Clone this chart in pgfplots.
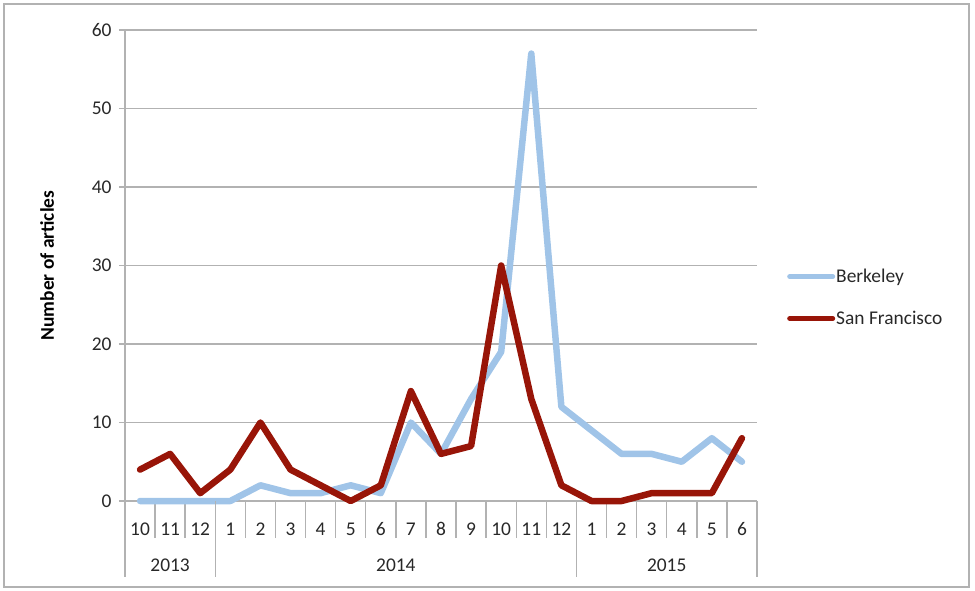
\documentclass[border=0pt]{standalone}
\usepackage{fontspec}
\setmainfont{Carlito}
\usepackage{pgfplots}
\pgfplotsset{compat=1.18}
\definecolor{berk}{RGB}{160,196,232}
\definecolor{sfc}{RGB}{152,21,8}
\definecolor{gridc}{RGB}{178,178,178}
\definecolor{txt}{RGB}{40,40,40}
\newcommand{\cf}{\fontsize{19.5}{23}\selectfont}
\begin{document}
\begin{tikzpicture}
\useasboundingbox (-125bp,-90bp) rectangle (850bp,501bp);
\draw[gridc, line width=1.6bp] (-121bp,-86bp) rectangle (844bp,497bp);
\begin{axis}[
  name=ax,
  at={(0bp,0bp)}, anchor=south west,
  scale only axis,
  width=632bp, height=471bp,
  xmin=-0.5, xmax=20.5,
  ymin=0, ymax=60,
  ytick={0,10,...,60},
  xtick={0,...,20},
  xticklabels={10,11,12,1,2,3,4,5,6,7,8,9,10,11,12,1,2,3,4,5,6},
  minor xtick={-0.5,0.5,...,20.5},
  axis lines*=left,
  axis line style={gridc, line width=1.4bp},
  ymajorgrids,
  major grid style={gridc, line width=1.6bp},
  tick style={gridc, line width=1.4bp},
  tick align=outside,
  major tick length=6bp,
  minor tick length=37bp,
  xtick style={/pgfplots/major tick length=0bp},
  /pgf/number format/assume math mode=true,
  ticklabel style={font=\cf, text=txt},
  yticklabel style={anchor=east, xshift=-4bp},
  xticklabel style={anchor=center, yshift=-22bp},
  ylabel={\bfseries Number of articles},
  ylabel style={font=\cf, text=black, at={(axis description cs:0,0.5)}, anchor=center, yshift=78bp},
  legend style={draw=none, fill=none, at={(rel axis cs:1,0.432)}, anchor=west, xshift=30bp,
    font=\cf, text=txt, row sep=25bp, inner sep=0pt,
    nodes={inner sep=1bp}},
  legend cell align=left,
  legend image code/.code={\draw[#1, line width=5bp, line cap=round] (0bp,0bp) -- (43bp,0bp);},
  clip=false,
]
\addplot[berk, line width=6.5bp, line join=round, line cap=round] coordinates {
(0,0) (1,0) (2,0) (3,0) (4,2) (5,1) (6,1) (7,2) (8,1) (9,10) (10,6) (11,13) (12,19) (13,57) (14,12) (15,9) (16,6) (17,6) (18,5) (19,8) (20,5)};
\addlegendentry{Berkeley}
\addplot[sfc, line width=6.5bp, line join=round, line cap=round] coordinates {
(0,4) (1,6) (2,1) (3,4) (4,10) (5,4) (6,2) (7,0) (8,2) (9,14) (10,6) (11,7) (12,30) (13,13) (14,2) (15,0) (16,0) (17,1) (18,1) (19,1) (20,8)};
\addlegendentry{San Francisco}
\draw[gridc, line width=1.4bp] (axis cs:-0.5,0) -- ++(0bp,-76bp);
\draw[gridc, line width=1.4bp] (axis cs:2.5,0) -- ++(0bp,-76bp);
\draw[gridc, line width=1.4bp] (axis cs:14.5,0) -- ++(0bp,-76bp);
\draw[gridc, line width=1.4bp] (axis cs:20.5,0) -- ++(0bp,-76bp);
\node[font=\cf, text=txt] at ([yshift=-64bp]axis cs:1,0) {2013};
\node[font=\cf, text=txt] at ([yshift=-64bp]axis cs:8.5,0) {2014};
\node[font=\cf, text=txt] at ([yshift=-64bp]axis cs:17.5,0) {2015};
\end{axis}
\end{tikzpicture}
\end{document}
